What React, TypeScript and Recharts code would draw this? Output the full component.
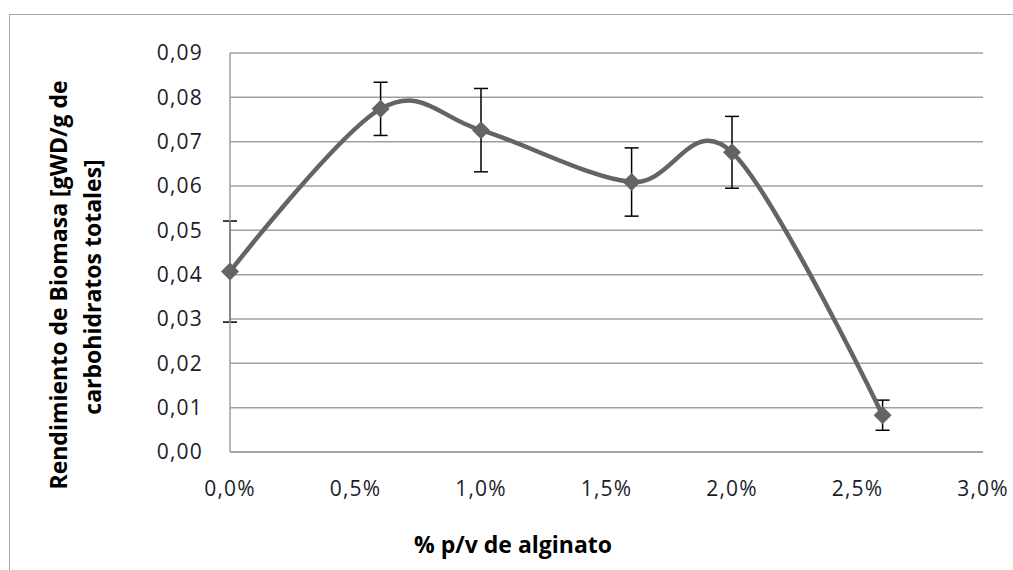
import React from 'react';
import { LineChart, Line, XAxis, YAxis, CartesianGrid, ErrorBar, Label } from 'recharts';

// Alginate concentration (% w/v) and biomass yield with its standard deviation
const alginatePct = [0.0, 0.6, 1.0, 1.6, 2.0, 2.6];
const biomassYield = [0.0407, 0.0774, 0.0726, 0.0609, 0.0676, 0.0083];
const yieldError = [0.0114, 0.006, 0.0094, 0.0077, 0.0081, 0.0034];

const xTicks = [0, 0.5, 1.0, 1.5, 2.0, 2.5, 3.0];
const yTicks = [0, 0.01, 0.02, 0.03, 0.04, 0.05, 0.06, 0.07, 0.08, 0.09];

const xTitle = '% p/v de alginato';
const yTitleLines = ['Rendimiento de Biomasa [gWD/g de', 'carbohidratos totales]'];

const data = alginatePct.map((x, i) => ({ x, y: biomassYield[i], err: yieldError[i] }));

const FONT = '"Open Sans", "Noto Sans", sans-serif';
const GRID = '#9f9f9f';
const SERIES = '#646464';

// Catmull-Rom style smoothing (cardinal spline, tension 0), like a spreadsheet "smoothed line"
function smoothCurve(context: any) {
  const k = 1 / 6;
  let x0 = NaN, y0 = NaN, x1 = NaN, y1 = NaN, x2 = NaN, y2 = NaN, pt = 0;
  const seg = (x: number, y: number) => {
    context.bezierCurveTo(
      x1 + k * (x2 - x0),
      y1 + k * (y2 - y0),
      x2 + k * (x1 - x),
      y2 + k * (y1 - y),
      x2,
      y2
    );
  };
  return {
    areaStart() {},
    areaEnd() {},
    lineStart() {
      x0 = x1 = x2 = y0 = y1 = y2 = NaN;
      pt = 0;
    },
    lineEnd() {
      if (pt === 2) context.lineTo(x2, y2);
      else if (pt === 3) seg(x1, y1);
    },
    point(xv: number, yv: number) {
      const x = +xv;
      const y = +yv;
      switch (pt) {
        case 0:
          pt = 1;
          context.moveTo(x, y);
          break;
        case 1:
          pt = 2;
          x1 = x;
          y1 = y;
          break;
        case 2:
          pt = 3;
          seg(x, y);
          break;
        default:
          seg(x, y);
          break;
      }
      x0 = x1; x1 = x2; x2 = x;
      y0 = y1; y1 = y2; y2 = y;
    },
  };
}

const Diamond = (props: any) => {
  const { cx, cy } = props;
  if (cx == null || cy == null) return null;
  const r = 9;
  return (
    <polygon
      points={`${cx},${cy - r} ${cx + r},${cy} ${cx},${cy + r} ${cx - r},${cy}`}
      fill={SERIES}
      stroke="none"
    />
  );
};

const fmtY = (v: number) => v.toFixed(2).replace('.', ',');
const fmtX = (v: number) => v.toFixed(1).replace('.', ',') + '%';

const tickStyle = { fill: '#1c1c28', fontSize: 21, fontFamily: FONT, letterSpacing: 1.2 };

export default function App() {
  return (
    <div
      style={{
        position: 'absolute',
        left: 0,
        top: 0,
        width: 1013,
        height: 570,
        overflow: 'hidden',
        background: '#ffffff',
      }}
    >
      <div
        style={{
          position: 'absolute',
          left: 9,
          top: 14,
          width: 1200,
          height: 800,
          borderLeft: '1.5px solid #a6a6a6',
          borderTop: '1.5px solid #a6a6a6',
        }}
      />
      <div style={{ position: 'absolute', left: 0, top: 0 }}>
        <LineChart width={1013} height={570} data={data} margin={{ top: 53, right: 30, bottom: 0, left: 0 }}>
          <CartesianGrid horizontal vertical={false} stroke={GRID} strokeWidth={1.5} />
          <XAxis
            type="number"
            dataKey="x"
            domain={[0, 3]}
            ticks={xTicks}
            interval={0}
            tickFormatter={fmtX}
            height={118}
            tickSize={0}
            tickMargin={29}
            tickLine={false}
            axisLine={{ stroke: GRID, strokeWidth: 1.5 }}
            tick={tickStyle}
          >
            <Label
              content={() => (
                <text
                  x={513}
                  y={553}
                  textAnchor="middle"
                  fontFamily={FONT}
                  fontWeight="bold"
                  fontSize={23}
                  fill="#000"
                >
                  {xTitle}
                </text>
              )}
            />
          </XAxis>
          <YAxis
            type="number"
            domain={[0, 0.09]}
            ticks={yTicks}
            interval={0}
            tickFormatter={fmtY}
            width={230}
            tickSize={0}
            tickMargin={27}
            tickLine={false}
            axisLine={{ stroke: GRID, strokeWidth: 1.5 }}
            tick={tickStyle}
          >
            <Label
              content={() => (
                <g fontFamily={FONT} fontWeight="bold" fontSize={23} fill="#000">
                  <text x={67} y={285} textAnchor="middle" transform="rotate(-90, 67, 285)">
                    {yTitleLines[0]}
                  </text>
                  <text x={101} y={287} textAnchor="middle" transform="rotate(-90, 101, 287)">
                    {yTitleLines[1]}
                  </text>
                </g>
              )}
            />
          </YAxis>
          <Line
            dataKey="y"
            type={smoothCurve as any}
            stroke={SERIES}
            strokeWidth={4.5}
            dot={<Diamond />}
            activeDot={false}
            isAnimationActive={false}
          >
            <ErrorBar dataKey="err" direction="y" width={7} stroke="#000" strokeWidth={1.5} />
          </Line>
        </LineChart>
      </div>
    </div>
  );
}
